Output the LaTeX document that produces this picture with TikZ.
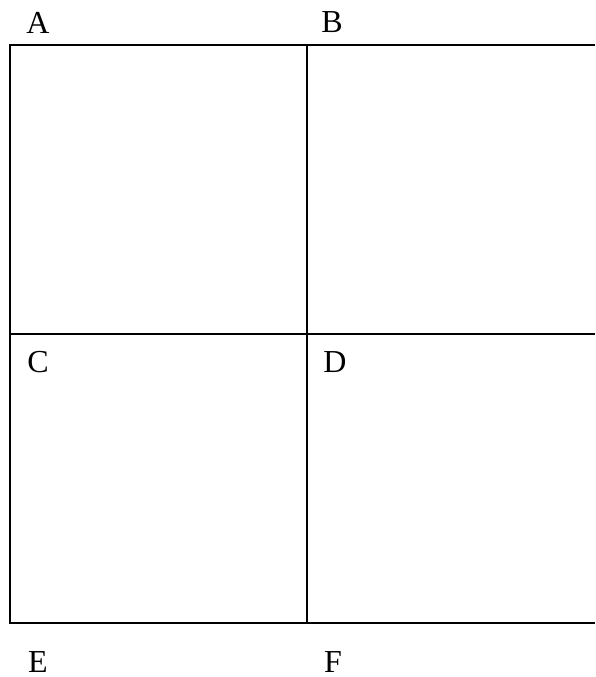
\documentclass[tikz,border=0pt]{standalone}
\usepackage{fontspec}
\setmainfont{Liberation Serif}
\begin{document}
\begin{tikzpicture}[x=1pt,y=1pt,
  gridline/.style={line width=2.6pt, black},
  lab/.style={font=\fontsize{32}{32}\selectfont, inner sep=0pt, anchor=center}]
\useasboundingbox (0,0) rectangle (595,677);
% grid corners (y measured from top: 45, 334, 623)
\coordinate (tl) at (10,632);
\coordinate (tm) at (307,632);
\coordinate (tr) at (595,632);
\coordinate (ml) at (10,343);
\coordinate (mm) at (307,343);
\coordinate (mr) at (595,343);
\coordinate (bl) at (10,54);
\coordinate (bm) at (307,54);
\coordinate (br) at (595,54);
\draw[gridline] (tr) -- (tl) -- (bl) -- (br);
\draw[gridline] (tm) -- (bm);
\draw[gridline] (ml) -- (mr);
\node[lab] (A) at (38,654) {A};
\node[lab] (B) at (332,655) {B};
\node[lab] (C) at (38,315) {C};
\node[lab] (D) at (335,315) {D};
\node[lab] (E) at (38,15) {E};
\node[lab] (F) at (333,15) {F};
\end{tikzpicture}
\end{document}
